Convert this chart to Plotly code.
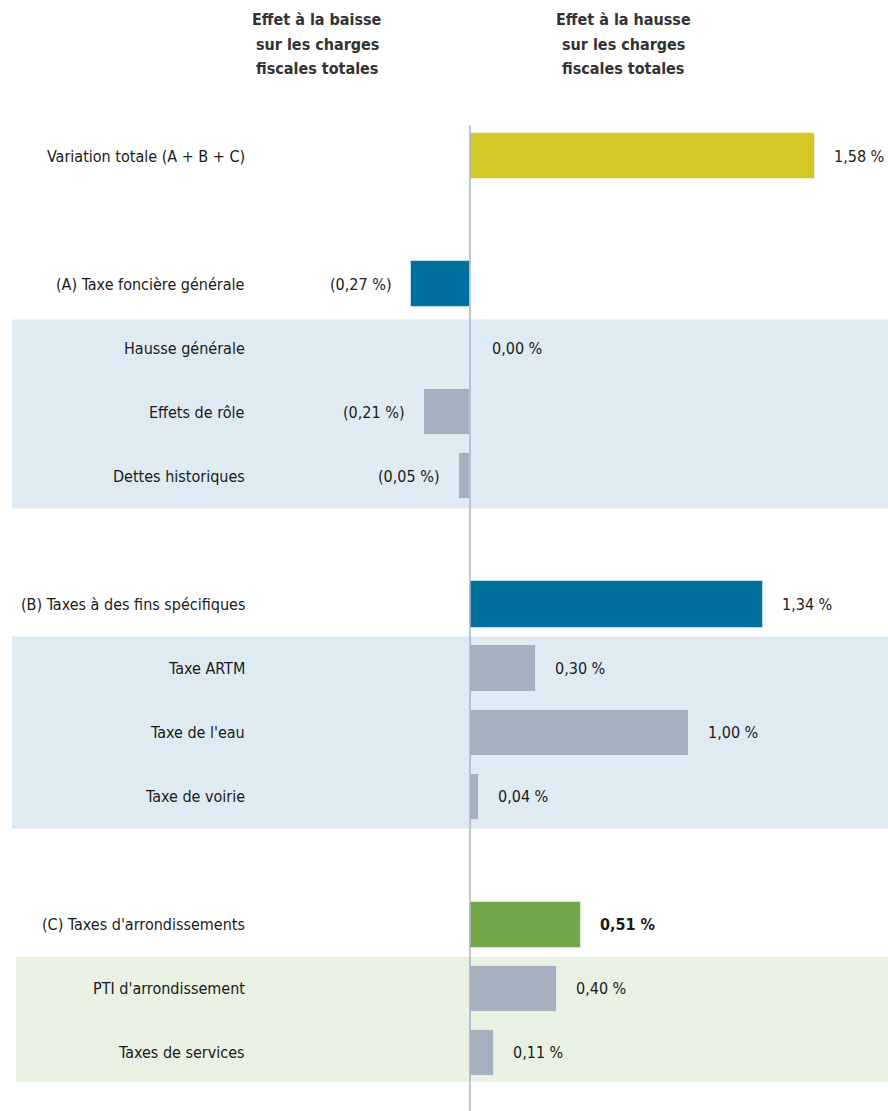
import plotly.graph_objects as go

# Rows from top to bottom; None marks an empty spacer row
labels = ["Variation totale (A + B + C)", None,
          "(A) Taxe foncière générale", "Hausse générale", "Effets de rôle", "Dettes historiques", None,
          "(B) Taxes à des fins spécifiques", "Taxe ARTM", "Taxe de l'eau", "Taxe de voirie", None,
          "(C) Taxes d'arrondissements", "PTI d'arrondissement", "Taxes de services"]
values = [1.58, None, -0.27, 0.00, -0.21, -0.05, None, 1.34, 0.30, 1.00, 0.04, None, 0.51, 0.40, 0.11]
kinds = ["total", None, "group", "sub", "sub", "sub", None, "group", "sub", "sub", "sub", None, "groupC", "sub", "sub"]

header_left = ["Effet à la baisse", "sur les charges", "fiscales totales"]
header_right = ["Effet à la hausse", "sur les charges", "fiscales totales"]

colors = {"total": "#D3C828", "group": "#00709F", "groupC": "#73A84A", "sub": "#A5B1BE"}
FONT = "Liberation Sans Narrow, DejaVu Sans Condensed, Arial Narrow, sans-serif"

W, H = 888, 1111
zero_px, px_per_unit = 470, 218.5
row0_px, row_px = 156, 64.07

x_range = [-zero_px / px_per_unit, (W - zero_px) / px_per_unit]
y_range = [len(labels) - 1 + (H - row0_px - (len(labels) - 1) * row_px) / row_px, -row0_px / row_px]

ys, xs, cs = [], [], []
for i, (v, k) in enumerate(zip(values, kinds)):
    if v is None:
        continue
    ys.append(i)
    xs.append(v)
    cs.append(colors[k])

fig = go.Figure()

# background bands behind the sub-rows
bands = [(2.55, 5.5, "#DEEBF3", 12), (7.5, 10.5, "#DEEBF3", 12), (12.5, 14.45, "#E9F1E2", 16)]
for y0, y1, col, xl in bands:
    fig.add_shape(type="rect", xref="paper", yref="y", x0=xl / W, x1=1, y0=y0, y1=y1,
                  fillcolor=col, line=dict(width=0), layer="below")

fig.add_trace(go.Bar(x=xs, y=ys, orientation="h", width=0.72,
                     marker=dict(color=cs, line=dict(color="rgba(255,255,255,0.5)", width=1)),
                     hoverinfo="skip", showlegend=False))

# zero line
fig.add_shape(type="line", xref="x", yref="y", x0=0, x1=0, y0=-0.48, y1=y_range[0],
              line=dict(color="#A8B4C2", width=1.5))

for i, (lab, v, k) in enumerate(zip(labels, values, kinds)):
    if lab is None:
        continue
    fig.add_annotation(x=247 / W, xref="paper", y=i, yref="y", text=lab, showarrow=False,
                       xanchor="right", font=dict(family=FONT, size=16, color="#1a1a1a"))
    txt = ("%.2f %%" % abs(v)).replace(".", ",")
    if v < 0:
        fig.add_annotation(x=v, y=i, text="(" + txt + ")", showarrow=False, xanchor="right",
                           xshift=-17, font=dict(family=FONT, size=16, color="#1a1a1a"))
    else:
        t = "<b>" + txt + "</b>" if k == "groupC" else txt
        fig.add_annotation(x=v, y=i, text=t, showarrow=False, xanchor="left",
                           xshift=17 if v > 0 else 20, font=dict(family=FONT, size=16, color="#1a1a1a"))

for lines, xp in [(header_left, 317), (header_right, 623)]:
    for j, line in enumerate(lines):
        fig.add_annotation(x=xp / W, xref="paper", y=1 - (20 + 24 * j) / H, yref="paper",
                           xanchor="center", yanchor="middle",
                           text="<b>" + line + "</b>", showarrow=False,
                           font=dict(family=FONT, size=16, color="#333333"))

fig.update_layout(
    width=W, height=H,
    margin=dict(l=0, r=0, t=0, b=0),
    plot_bgcolor="white", paper_bgcolor="white",
    xaxis=dict(range=x_range, visible=False, fixedrange=True),
    yaxis=dict(range=y_range, visible=False, fixedrange=True),
    bargap=0,
)

fig.write_html("out.html", config={"displayModeBar": False},
               post_script="document.body.style.margin='0px';")
